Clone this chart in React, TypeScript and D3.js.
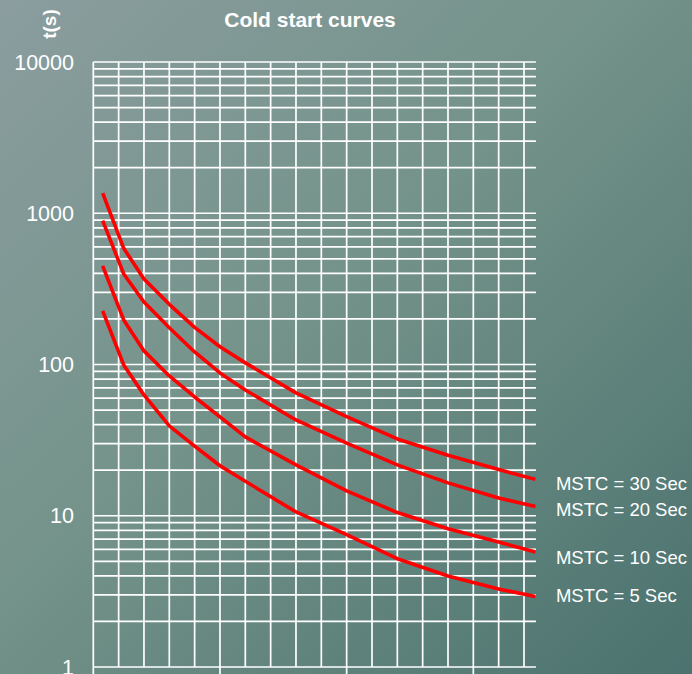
import React from "react";
import * as d3 from "d3";

const W = 692;
const H = 674;

const xPoints = [0.37, 1.2, 2, 3, 4, 5, 6, 8, 10, 12, 14, 16, 17.45];
const mstc30 = [1358, 586, 368, 250, 176, 131, 102.5, 64.9, 45.2, 32.2, 25.1, 20.2, 17.4];
const mstc20 = [895, 397, 259, 175, 121, 88, 67.9, 43, 30.2, 21.7, 16.5, 13.1, 11.5];
const mstc10 = [449, 197, 123, 84, 61, 45, 33.2, 21.7, 14.6, 10.5, 8.2, 6.7, 5.76];
const mstc5 = [226, 99.4, 62.9, 39.3, 28.9, 21.4, 16.9, 10.6, 7.5, 5.2, 4.0, 3.28, 2.92];

const seriesNames = ["MSTC = 30 Sec", "MSTC = 20 Sec", "MSTC = 10 Sec", "MSTC = 5 Sec"];
const seriesValues = [mstc30, mstc20, mstc10, mstc5];
const labelNudge = [4, 2.5, 5.5, -1];

const yTickLabels = [10000, 1000, 100, 10, 1];
const xGridCount = 18;
const xMajor = [0, 5, 10, 15];
const xEnd = 17.47;

export default function App() {
  const x = d3.scaleLinear().domain([0, 17]).range([93.3, 524]);
  const y = d3.scaleLog().domain([1, 10000]).range([667, 62]);

  const hValues: number[] = [];
  [1, 10, 100, 1000].forEach((d) => {
    for (let k = 1; k < 10; k++) hValues.push(d * k);
  });
  hValues.push(10000);

  const line = d3
    .line<number>()
    .x((_, i) => x(xPoints[i]))
    .y((v) => y(v))
    .curve(d3.curveLinear);

  const font = "'Liberation Sans', Arial, Helvetica, sans-serif";

  return (
    <svg
      width={W}
      height={H}
      style={{ position: "absolute", left: 0, top: 0 }}
      fontFamily={font}
    >
      <defs>
        <linearGradient id="bg" x1="0" y1="0" x2="1" y2="1">
          <stop offset="0" stopColor="#8b9d9f" />
          <stop offset="0.45" stopColor="#74938a" />
          <stop offset="1" stopColor="#4b726e" />
        </linearGradient>
      </defs>
      <rect width={W} height={H} fill="url(#bg)" />

      <g stroke="#ffffff" strokeWidth={1.7} fill="none">
        {hValues.map((v) => (
          <line key={"h" + v} x1={x(0)} x2={x(xEnd)} y1={y(v)} y2={y(v)} />
        ))}
        {d3.range(xGridCount).map((i) => (
          <line key={"v" + i} x1={x(i)} x2={x(i)} y1={y(10000)} y2={y(1)} />
        ))}
        {xMajor.map((i) => (
          <line key={"m" + i} x1={x(i)} x2={x(i)} y1={y(1)} y2={H} />
        ))}
      </g>

      <g fill="none" stroke="#ff0000" strokeWidth={3.6} strokeLinejoin="round">
        {seriesValues.map((s, k) => (
          <path key={k} d={line(s) || ""} />
        ))}
      </g>

      <g fill="#ffffff" fontSize={21.5} textAnchor="end">
        {yTickLabels.map((v) => (
          <text key={v} x={74} y={y(v)} dy="0.36em">
            {v}
          </text>
        ))}
      </g>

      <g fill="#ffffff" fontSize={18.5}>
        {seriesNames.map((n, k) => (
          <text
            key={n}
            x={x(xEnd) + 20}
            y={y(seriesValues[k][seriesValues[k].length - 1]) + labelNudge[k]}
            dy="0.36em"
          >
            {n}
          </text>
        ))}
      </g>

      <text x={310} y={27} fill="#ffffff" fontSize={21} fontWeight="bold" textAnchor="middle">
        Cold start curves
      </text>
      <text
        transform="translate(56,24) rotate(-90)"
        fill="#ffffff"
        fontSize={19}
        fontWeight="bold"
        textAnchor="middle"
      >
        t(s)
      </text>
    </svg>
  );
}
